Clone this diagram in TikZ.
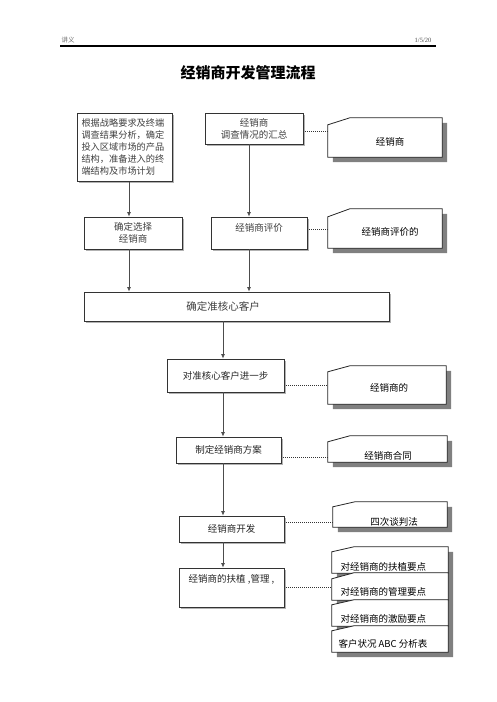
\documentclass[tikz,border=0pt]{standalone}
\usepackage{fontspec}
\setmainfont{Noto Sans CJK SC}
\newfontfamily\serifl{Liberation Serif}
\usetikzlibrary{arrows.meta,shadows}
\tikzset{
 flowbox/.style={draw=black!80, line width=0.8pt, fill=white, inner sep=0pt,
   drop shadow={shadow xshift=1.5pt,shadow yshift=-1.5pt,fill=black!30,opacity=1},
   font=\fontsize{9.5}{12}\selectfont, text=black!75, align=center},
 flowline/.style={draw=black!70, line width=0.8pt, -{Latex[length=4.5pt,width=4pt]}},
 dotline/.style={draw=black!80, line width=0.7pt, dash pattern=on 1pt off 1pt},
 cbody/.style={inner sep=0pt, draw=none},
 ctext/.style={font=\fontsize{9.5}{11}\selectfont, text=black},
 cshade/.style={fill=black!50, transform canvas={xshift=5pt,yshift=-5pt}},
 cfill/.style={draw=black!85, line width=0.8pt, fill=white},
}
\newcommand{\cbpath}[2]{(#1.north west) -- ([shift={(22pt,#2)}]#1.north west) -- ([yshift=#2]#1.north east) -- (#1.south east) -- (#1.south west) -- cycle}
\begin{document}
\begin{tikzpicture}[x=1pt,y=-1pt]
\useasboundingbox (0,0) rectangle (496,702);
% header
\node[font=\fontsize{6.5}{7}\selectfont, text=black!60] (hl) at (68,40) {讲义};
\node[font=\serifl\fontsize{6.5}{7}\selectfont, text=black!70] (hr) at (423,40) {1/5/20};
\draw[line width=1.2pt] (60,46) -- (436,46);
\node[font=\fontsize{15}{15}\bfseries\selectfont] (title) at (248,73) {经销商开发管理流程};
% main boxes
\node[flowbox, line width=1pt, drop shadow={shadow xshift=1pt,shadow yshift=-1pt,fill=black!25,opacity=1}, minimum width=95pt, minimum height=68pt, text width=86pt, align=left, font=\fontsize{9.2}{12}\selectfont] (A) at (124.5,147)
 {根据战略要求及终端\\调查结果分析，确定\\投入区域市场的产品\\结构，准备进入的终\\端结构及市场计划};
\node[flowbox, minimum width=98pt, minimum height=31pt] (B) at (254,128.5) {经销商\\调查情况的汇总};
\node[flowbox, minimum width=98pt, minimum height=32pt] (C) at (133,233) {确定选择\\经销商};
\node[flowbox, minimum width=96pt, minimum height=32pt] (D) at (259,233) {经销商评价\\\mbox{}};
\node[flowbox, minimum width=305pt, minimum height=29pt, font=\fontsize{10.5}{12}\selectfont] (E) at (236.5,306.5) {确定准核心客户\hspace{27pt}};
\node[flowbox, minimum width=117pt, minimum height=33pt, text=black!85] (F) at (225.5,375.5) {对准核心客户进一步};
\node[flowbox, minimum width=105pt, minimum height=26pt, text=black!85] (G) at (228.5,450) {制定经销商方案};
\node[flowbox, minimum width=105pt, minimum height=26pt, text=black!85] (H) at (231.5,529) {经销商开发};
\node[flowbox, minimum width=105pt, minimum height=39pt, text=black!85] (I) at (231.5,587.5) {经销商的扶植 ,管理 ,\\[6pt]\mbox{}};
% arrows
\draw[flowline] (A.south -| 129,0) -- (C.north -| 129,0);
\draw[flowline] (B.south -| 249,0) -- (D.north -| 249,0);
\draw[flowline] (C.south -| 129,0) -- (E.north -| 129,0);
\draw[flowline] (D.south -| 249,0) -- (E.north -| 249,0);
\draw[flowline] (E.south -| 223,0) -- (F.north -| 223,0);
\draw[flowline] (F.south -| 223,0) -- (G.north -| 223,0);
\draw[flowline] (G.south -| 223,0) -- (H.north -| 223,0);
\draw[flowline] (H.south -| 223,0) -- (I.north -| 223,0);
% callout bodies
\node[cbody, minimum width=114pt, minimum height=32pt] (co1) at (385,141) {};
\node[cbody, minimum width=114pt, minimum height=31pt] (co2) at (385,232.5) {};
\node[cbody, minimum width=118pt, minimum height=32pt] (co3) at (387,388) {};
\node[cbody, minimum width=119pt, minimum height=20pt] (co4) at (387.5,452) {};
\node[cbody, minimum width=114pt, minimum height=20pt] (co5) at (390,517) {};
\node[cbody, minimum width=116pt, minimum height=21pt] (s1) at (390,562.5) {};
\node[cbody, minimum width=116pt, minimum height=21pt] (s2) at (390,589.5) {};
\node[cbody, minimum width=116pt, minimum height=21pt] (s3) at (390,615.5) {};
\node[cbody, minimum width=116pt, minimum height=21pt] (s4) at (390,641.5) {};
% shadows
\fill[cshade] \cbpath{co1}{7pt};
\fill[cshade] \cbpath{co2}{8pt};
\fill[cshade] \cbpath{co3}{6pt};
\fill[cshade] \cbpath{co4}{6pt};
\fill[cshade] \cbpath{co5}{5pt};
\fill[cshade] \cbpath{s1}{5pt};
\fill[cshade] \cbpath{s2}{6pt};
\fill[cshade] \cbpath{s3}{5pt};
\fill[cshade] \cbpath{s4}{5pt};
% shapes
\draw[cfill] \cbpath{co1}{7pt};
\draw[cfill] \cbpath{co2}{8pt};
\draw[cfill] \cbpath{co3}{6pt};
\draw[cfill] \cbpath{co4}{6pt};
\draw[cfill] \cbpath{co5}{5pt};
\draw[cfill] \cbpath{s1}{5pt};
\draw[cfill] \cbpath{s2}{6pt};
\draw[cfill] \cbpath{s3}{5pt};
\draw[cfill] \cbpath{s4}{5pt};
% callout texts
\node[ctext] (t1) at (390,142) {经销商};
\node[ctext] (t2) at (390,232) {经销商评价的};
\node[ctext] (t3) at (389,388) {经销商的};
\node[ctext] (t4) at (388,456) {经销商合同};
\node[ctext] (t5) at (394,522) {四次谈判法};
\node[ctext, anchor=west] (u1) at (337,567) {对经销商的扶植要点};
\node[ctext, anchor=west] (u2) at (337,592) {对经销商的管理要点};
\node[ctext, anchor=west] (u3) at (337,619) {对经销商的激励要点};
\node[ctext, anchor=west] (u4) at (335,644) {客户状况 ABC 分析表};
% dotted connectors
\draw[dotline] (B.east |- 0,131.7) -- (co1.west |- 0,131.7);
\draw[dotline] (D.east |- 0,229) -- (co2.west |- 0,229);
\draw[dotline] (F.east |- 0,385) -- (co3.west |- 0,385);
\draw[dotline] (G.east |- 0,457) -- (co4.west |- 0,457);
\draw[dotline] (H.east |- 0,522) -- (co5.west |- 0,522);
\draw[dotline] (I.east |- 0,587) -- (s2.west |- 0,587);
\end{tikzpicture}
\end{document}
